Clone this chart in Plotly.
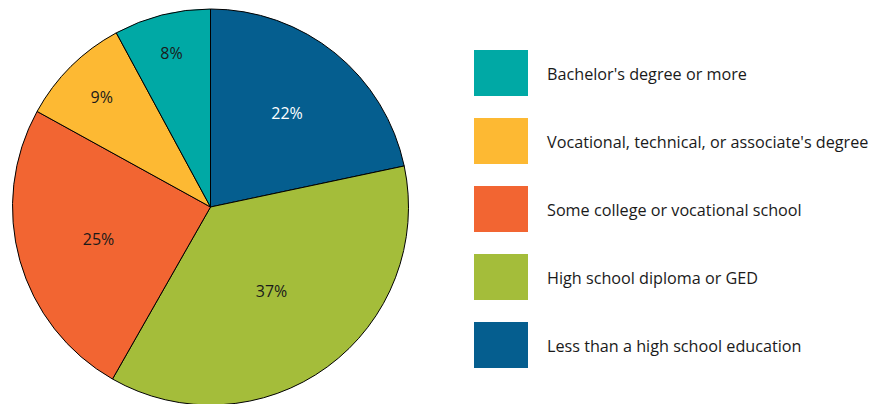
import plotly.graph_objects as go

# Data (clockwise from 12 o'clock)
categories = [
    "Less than a high school education",
    "High school diploma or GED",
    "Some college or vocational school",
    "Vocational, technical, or associate's degree",
    "Bachelor's degree or more",
]
values = [21.7, 36.6, 24.8, 9.1, 7.9]
value_labels = ["22%", "37%", "25%", "9%", "8%"]
colors = ["#055E8F", "#A4BD3A", "#F26532", "#FDB933", "#00A9A5"]
text_colors = ["#FFFFFF", "#1a1a1a", "#1a1a1a", "#1a1a1a", "#1a1a1a"]

# Legend order (top to bottom)
legend_order = [4, 3, 2, 1, 0]

# The page body adds an 8px offset; figure coordinates compensate for it.
OFF = 8
W, H = 877, 398
FONT = "Open Sans"

def px_x(p):
    return (p - OFF) / W

def px_y(p):
    return 1 - (p - OFF) / H

fig = go.Figure()
fig.add_trace(go.Pie(
    labels=categories,
    values=values,
    text=value_labels,
    textinfo="text",
    textposition="inside",
    insidetextorientation="horizontal",
    sort=False,
    direction="clockwise",
    rotation=0,
    marker=dict(colors=colors, line=dict(color="#000000", width=1)),
    textfont=dict(family=FONT, size=16, color=text_colors),
    domain=dict(x=[px_x(12.5), px_x(408.5)], y=[0, 1]),
    showlegend=False,
    hoverinfo="label+text",
))

shapes = []
annotations = []
x0, x1 = 474, 528
top0, box_h, step = 50, 46, 68
for i, idx in enumerate(legend_order):
    yt = top0 + i * step
    yb = yt + box_h
    shapes.append(dict(
        type="rect", xref="paper", yref="paper",
        x0=px_x(x0), x1=px_x(x1),
        y0=px_y(yb), y1=px_y(yt),
        fillcolor=colors[idx], line=dict(width=0),
    ))
    annotations.append(dict(
        xref="paper", yref="paper",
        x=px_x(545), y=px_y(yt + box_h / 2 + 1),
        text=categories[idx], showarrow=False,
        xanchor="left", yanchor="middle",
        font=dict(family=FONT, size=16.2, color="#1a1a1a"),
    ))

fig.update_layout(
    width=W, height=H,
    margin=dict(l=0, r=0, t=0, b=0),
    paper_bgcolor="white",
    plot_bgcolor="white",
    shapes=shapes,
    annotations=annotations,
)

fig.write_html("out.html")
